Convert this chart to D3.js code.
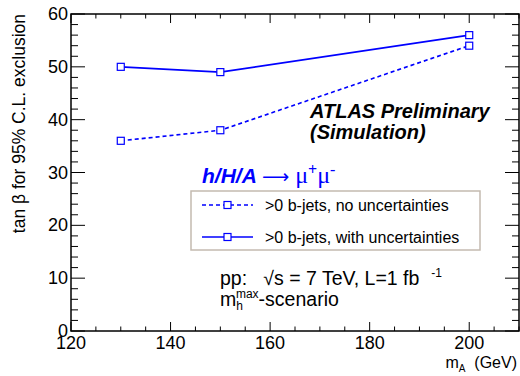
<!DOCTYPE html>
<html>
<head>
<meta charset="utf-8">
<script src="https://cdn.jsdelivr.net/npm/d3@7"></script>
<style>
  html, body { margin: 0; padding: 0; background: #fff; }
  svg text { font-family: "Liberation Sans", Arial, Helvetica, sans-serif; white-space: pre; }
</style>
</head>
<body>
<svg id="chart" width="520" height="376"></svg>
<script>
// Higgs mass points (GeV)
const massPoints = [130, 150, 200];
// tan(beta) exclusion limits
const noUncertainties = [36, 38, 54];
const withUncertainties = [50, 49, 56];
const seriesLabels = [">0 b-jets, no uncertainties", ">0 b-jets, with uncertainties"];
const xTicks = [120, 140, 160, 180, 200];
const yTicks = [0, 10, 20, 30, 40, 50, 60];

const W = 520, H = 376;
const margin = { left: 71, right: 1, top: 14, bottom: 45 };
const svg = d3.select("#chart");

const x = d3.scaleLinear().domain([120, 210]).range([margin.left, W - margin.right]);
const y = d3.scaleLinear().domain([0, 60]).range([H - margin.bottom, margin.top]);

const blue = "#0000ff";
const serif = "Liberation Serif, Times New Roman, serif";
const x0 = x.range()[0], x1 = x.range()[1];
const y0 = y.range()[0], y1 = y.range()[1];

// Frame
svg.append("rect")
  .attr("x", x0).attr("y", y1).attr("width", x1 - x0).attr("height", y0 - y1)
  .attr("fill", "none").attr("stroke", "#000").attr("stroke-width", 1.5);

// Ticks on all four sides
const g = svg.append("g").attr("stroke", "#000").attr("stroke-width", 1);
d3.range(120, 210.01, 5).forEach(v => {
  const major = v % 20 === 0;
  const len = major ? 9 : 4.5;
  g.append("line").attr("x1", x(v)).attr("x2", x(v)).attr("y1", y0).attr("y2", y0 - len);
  g.append("line").attr("x1", x(v)).attr("x2", x(v)).attr("y1", y1).attr("y2", y1 + len);
});
d3.range(0, 60.01, 2).forEach(v => {
  const major = v % 10 === 0;
  const len = major ? 14 : 7;
  g.append("line").attr("x1", x0).attr("x2", x0 + len).attr("y1", y(v)).attr("y2", y(v));
  g.append("line").attr("x1", x1).attr("x2", x1 - len).attr("y1", y(v)).attr("y2", y(v));
});

// Tick labels
svg.append("g").selectAll("text").data(xTicks).join("text")
  .attr("x", d => x(d)).attr("y", y0 + 18)
  .attr("text-anchor", "middle").attr("font-size", 18).text(d => d);
svg.append("g").selectAll("text").data(yTicks).join("text")
  .attr("x", x0 - 3).attr("y", d => y(d) + 6)
  .attr("text-anchor", "end").attr("font-size", 18).text(d => d);

// Axis titles
svg.append("text")
  .attr("transform", `translate(25,${y1}) rotate(-90)`)
  .attr("text-anchor", "end").attr("font-size", 17.5)
  .text("tan β for 95% C.L. exclusion");
const xt = svg.append("text").attr("x", x1 - 2).attr("y", 368)
  .attr("text-anchor", "end").attr("font-size", 16);
xt.append("tspan").text("m");
xt.append("tspan").attr("font-size", 10).attr("dy", 4).text("A");
xt.append("tspan").attr("dy", -4).text("  (GeV)");

// Series
const line = d3.line().x(d => x(d[0])).y(d => y(d[1]));
const series = [
  { values: noUncertainties, dash: "4,3" },
  { values: withUncertainties, dash: null }
];
series.forEach(s => {
  const pts = massPoints.map((m, i) => [m, s.values[i]]);
  svg.append("path").datum(pts).attr("d", line)
    .attr("fill", "none").attr("stroke", blue).attr("stroke-width", 1.6)
    .attr("stroke-dasharray", s.dash);
  svg.append("g").selectAll("rect").data(pts).join("rect")
    .attr("x", d => x(d[0]) - 3.5).attr("y", d => y(d[1]) - 3.5)
    .attr("width", 7).attr("height", 7)
    .attr("fill", "#fff").attr("stroke", blue).attr("stroke-width", 1.2);
});

// Labels
const atlas = svg.append("g").attr("font-weight", "bold").attr("font-style", "italic").attr("font-size", 20);
atlas.append("text").attr("x", 310).attr("y", 118).text("ATLAS Preliminary");
atlas.append("text").attr("x", 310).attr("y", 139).text("(Simulation)");

const proc = svg.append("text").attr("x", 202).attr("y", 183).attr("fill", blue).attr("font-size", 21);
proc.append("tspan").attr("font-weight", "bold").attr("font-style", "italic").text("h/H/A ");
proc.append("tspan").attr("font-family", "DejaVu Sans, sans-serif").attr("font-size", 19).text("⟶ ");
proc.append("tspan").attr("font-family", serif).attr("font-size", 24).text("μ");
proc.append("tspan").attr("font-family", serif).attr("font-size", 16).attr("font-weight", "bold").attr("dy", -8).text("+");
proc.append("tspan").attr("font-family", serif).attr("font-size", 24).attr("dy", 8).text("μ");
proc.append("tspan").attr("font-family", serif).attr("font-size", 16).attr("dy", -8).text("-");

// Legend
svg.append("rect").attr("x", 191).attr("y", 191).attr("width", 289).attr("height", 59)
  .attr("fill", "#fff").attr("stroke", "#c4bab0").attr("stroke-width", 1.5);
series.forEach((s, i) => {
  const ly = 205 + i * 32;
  svg.append("line").attr("x1", 202).attr("x2", 253).attr("y1", ly).attr("y2", ly)
    .attr("stroke", blue).attr("stroke-width", 1.6).attr("stroke-dasharray", s.dash);
  svg.append("rect").attr("x", 227.5 - 3.5).attr("y", ly - 3.5).attr("width", 7).attr("height", 7)
    .attr("fill", "#fff").attr("stroke", blue).attr("stroke-width", 1.2);
  svg.append("text").attr("x", 265).attr("y", ly + 5.5).attr("font-size", 16).text(seriesLabels[i]);
});

// Run conditions
const pp = svg.append("text").attr("x", 220).attr("y", 285).attr("font-size", 19.5);
pp.append("tspan").text("pp:   √s = 7 TeV, L=1 fb");
pp.append("tspan").attr("font-size", 12).attr("dx", 12).attr("dy", -8).text("-1");
const sc = svg.append("text").attr("x", 220).attr("y", 306).attr("font-size", 19.5);
sc.append("tspan").text("m");
sc.append("tspan").attr("font-size", 12).attr("dy", 4).text("h");
sc.append("tspan").attr("font-size", 12).attr("dx", -7).attr("dy", -12).text("max");
sc.append("tspan").attr("dy", 8).text("-scenario");
</script>
</body>
</html>
